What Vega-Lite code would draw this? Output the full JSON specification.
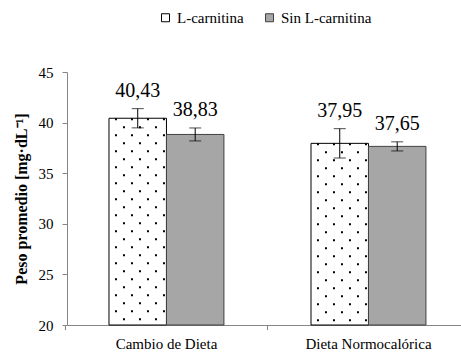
{
  "$schema": "https://vega.github.io/schema/vega-lite/v6.json",
  "width": 394,
  "height": 253,
  "autosize": "none",
  "padding": {"left": 67, "top": 72, "right": 0, "bottom": 29},
  "background": "white",
  "config": {"view": {"stroke": null}, "font": "Liberation Serif", "text": {"font": "Liberation Serif"}, "legend": {"labelFont": "Liberation Serif"}, "axis": {"labelFont": "Liberation Serif", "titleFont": "Liberation Serif"}},
  "data": {"values": [
    {"dieta": "Cambio de Dieta", "grupo": "L-carnitina", "peso": 40.43, "lo": 39.48, "hi": 41.38, "label": "40,43"},
    {"dieta": "Cambio de Dieta", "grupo": "Sin L-carnitina", "peso": 38.83, "lo": 38.19, "hi": 39.47, "label": "38,83"},
    {"dieta": "Dieta Normocalórica", "grupo": "L-carnitina", "peso": 37.95, "lo": 36.5, "hi": 39.4, "label": "37,95"},
    {"dieta": "Dieta Normocalórica", "grupo": "Sin L-carnitina", "peso": 37.65, "lo": 37.2, "hi": 38.1, "label": "37,65"}
  ]},
  "encoding": {
    "x": {
      "field": "dieta", "type": "nominal", "sort": null,
      "scale": {"paddingInner": 0.431, "paddingOuter": 0.1907, "align": 0.545},
      "axis": {"title": null, "domainColor": "#868686", "ticks": false, "labelFont": "Liberation Serif", "labelFontSize": 15, "labelColor": "black", "labelPadding": 11, "labelAngle": 0}
    }
  },
  "layer": [
    {
      "mark": {"type": "bar", "strokeWidth": 1},
      "encoding": {
        "xOffset": {"field": "grupo", "type": "nominal", "sort": null},
        "y": {"field": "peso", "type": "quantitative", "scale": {"domain": [20, 45], "nice": false, "zero": false},
          "axis": {"values": [20, 25, 30, 35, 40, 45], "grid": false, "title": "Peso promedio [mg·dL⁻¹]", "titleFont": "Liberation Serif", "titleFontSize": 16, "titleFontWeight": "bold", "titleColor": "black", "titlePadding": 9, "labelFont": "Liberation Serif", "labelFontSize": 15, "labelColor": "black", "domainColor": "#868686", "tickColor": "#868686", "tickSize": 5, "labelPadding": 9}},
        "y2": {"datum": 20},
        "fill": {"field": "grupo", "type": "nominal", "sort": null, "scale": {"range": ["white", "#a6a6a6"]},
          "legend": {"orient": "none", "legendX": 91, "legendY": -62, "direction": "horizontal", "title": null, "symbolType": "square", "symbolSize": 64, "symbolStrokeWidth": 1, "labelFont": "Liberation Serif", "labelFontSize": 15, "labelColor": "black", "labelOffset": 4, "columnPadding": 18}},
        "stroke": {"field": "grupo", "type": "nominal", "sort": null, "scale": {"range": ["black", "#404040"]},
          "legend": {"orient": "none", "legendX": 91, "legendY": -62, "direction": "horizontal", "title": null, "symbolType": "square", "symbolSize": 64, "symbolStrokeWidth": 1, "labelFont": "Liberation Serif", "labelFontSize": 15, "labelColor": "black", "labelOffset": 4, "columnPadding": 18}}
      }
    },
    {"mark": {"type": "rule", "xOffset": -101, "color": "#868686", "strokeWidth": 1, "clip": false}, "encoding": {"y": {"datum": 20}, "y2": {"datum": 19.5}}},
    {"transform": [{"filter": "datum.grupo === 'L-carnitina'"}], "mark": {"type": "rule", "xOffset": -50.5, "color": "black", "strokeWidth": 2, "strokeDash": [2, 14], "strokeDashOffset": 0}, "encoding": {"y": {"field": "peso", "type": "quantitative"}, "y2": {"datum": 20}}},
    {"transform": [{"filter": "datum.grupo === 'L-carnitina'"}], "mark": {"type": "rule", "xOffset": -42.5, "color": "black", "strokeWidth": 2, "strokeDash": [2, 14], "strokeDashOffset": 8}, "encoding": {"y": {"field": "peso", "type": "quantitative"}, "y2": {"datum": 20}}},
    {"transform": [{"filter": "datum.grupo === 'L-carnitina'"}], "mark": {"type": "rule", "xOffset": -34.5, "color": "black", "strokeWidth": 2, "strokeDash": [2, 14], "strokeDashOffset": 0}, "encoding": {"y": {"field": "peso", "type": "quantitative"}, "y2": {"datum": 20}}},
    {"transform": [{"filter": "datum.grupo === 'L-carnitina'"}], "mark": {"type": "rule", "xOffset": -26.5, "color": "black", "strokeWidth": 2, "strokeDash": [2, 14], "strokeDashOffset": 8}, "encoding": {"y": {"field": "peso", "type": "quantitative"}, "y2": {"datum": 20}}},
    {"transform": [{"filter": "datum.grupo === 'L-carnitina'"}], "mark": {"type": "rule", "xOffset": -18.5, "color": "black", "strokeWidth": 2, "strokeDash": [2, 14], "strokeDashOffset": 0}, "encoding": {"y": {"field": "peso", "type": "quantitative"}, "y2": {"datum": 20}}},
    {"transform": [{"filter": "datum.grupo === 'L-carnitina'"}], "mark": {"type": "rule", "xOffset": -10.5, "color": "black", "strokeWidth": 2, "strokeDash": [2, 14], "strokeDashOffset": 8}, "encoding": {"y": {"field": "peso", "type": "quantitative"}, "y2": {"datum": 20}}},
    {"transform": [{"filter": "datum.grupo === 'L-carnitina'"}], "mark": {"type": "rule", "xOffset": -2.5, "color": "black", "strokeWidth": 2, "strokeDash": [2, 14], "strokeDashOffset": 0}, "encoding": {"y": {"field": "peso", "type": "quantitative"}, "y2": {"datum": 20}}},
    {
      "mark": {"type": "rule", "color": "black", "strokeWidth": 1},
      "encoding": {"xOffset": {"field": "grupo", "type": "nominal", "sort": null}, "y": {"field": "lo", "type": "quantitative"}, "y2": {"field": "hi"}}
    },
    {
      "mark": {"type": "tick", "color": "black", "thickness": 1, "size": 12, "orient": "horizontal"},
      "encoding": {"xOffset": {"field": "grupo", "type": "nominal", "sort": null}, "y": {"field": "lo", "type": "quantitative"}}
    },
    {
      "mark": {"type": "tick", "color": "black", "thickness": 1, "size": 12, "orient": "horizontal"},
      "encoding": {"xOffset": {"field": "grupo", "type": "nominal", "sort": null}, "y": {"field": "hi", "type": "quantitative"}}
    },
    {
      "mark": {"type": "text", "font": "Liberation Serif", "fontSize": 20, "baseline": "alphabetic", "dy": -12, "color": "black"},
      "encoding": {"xOffset": {"field": "grupo", "type": "nominal", "sort": null}, "y": {"field": "hi", "type": "quantitative"}, "text": {"field": "label"}}
    }
  ]
}
